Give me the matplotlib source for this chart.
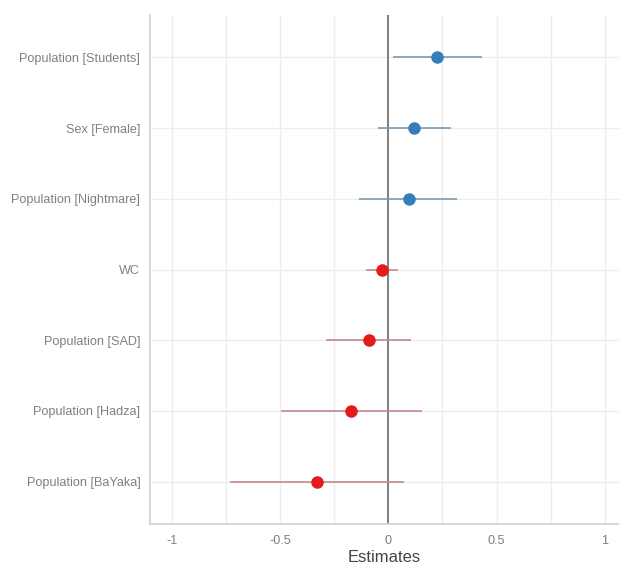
import numpy as np
import matplotlib.pyplot as plt

plt.rcParams['font.family'] = ['Liberation Sans', 'DejaVu Sans']

terms = ['Population [Students]', 'Sex [Female]', 'Population [Nightmare]', 'WC',
         'Population [SAD]', 'Population [Hadza]', 'Population [BaYaka]']
estimate = [0.227, 0.120, 0.096, -0.030, -0.091, -0.170, -0.330]
ci_low = [0.023, -0.048, -0.133, -0.101, -0.289, -0.495, -0.730]
ci_high = [0.434, 0.289, 0.319, 0.044, 0.105, 0.154, 0.071]

blue = '#377EB8'
red = '#E41A1C'

fig = plt.figure(figsize=(6.19, 5.66), dpi=100)
ax = fig.add_axes([0.2423, 0.0742, 0.7577, 0.8993])

ypos = np.arange(len(terms))[::-1] + 1
for y, est, lo, hi in zip(ypos, estimate, ci_low, ci_high):
    if est > 0:
        lc, pc = '#7A9DB3', blue
    else:
        lc, pc = '#C48A8A', red
    ax.plot([lo, hi], [y, y], color=lc, lw=1.2, zorder=3, solid_capstyle='butt')
    ax.plot(est, y, 'o', color=pc, ms=8, mec=pc, zorder=4)

ax.axvline(0, color='#7f7f7f', lw=1.4, zorder=2)

ax.set_xlim(-1.1, 1.065)
ax.set_ylim(0.4, 7.6)
ax.set_xticks([-1, -0.5, 0, 0.5, 1])
ax.set_xticklabels(['-1', '-0.5', '0', '0.5', '1'])
ax.set_xticks([-0.75, -0.25, 0.25, 0.75], minor=True)
ax.set_yticks(ypos)
ax.set_yticklabels(terms)

ax.grid(True, which='both', color='#ededed', lw=1.0, zorder=0)
ax.set_axisbelow(True)
ax.tick_params(axis='both', which='both', length=0, colors='#808080', labelsize=9.1)
ax.tick_params(axis='x', pad=8)
ax.tick_params(axis='y', pad=7)

for s in ['top', 'right']:
    ax.spines[s].set_visible(False)
for s in ['left', 'bottom']:
    ax.spines[s].set_color('#d4d4d4')
    ax.spines[s].set_linewidth(1.3)

ax.set_xlabel('Estimates', fontsize=12, color='#444444', labelpad=2)

fig.savefig('out.png', dpi=100)
